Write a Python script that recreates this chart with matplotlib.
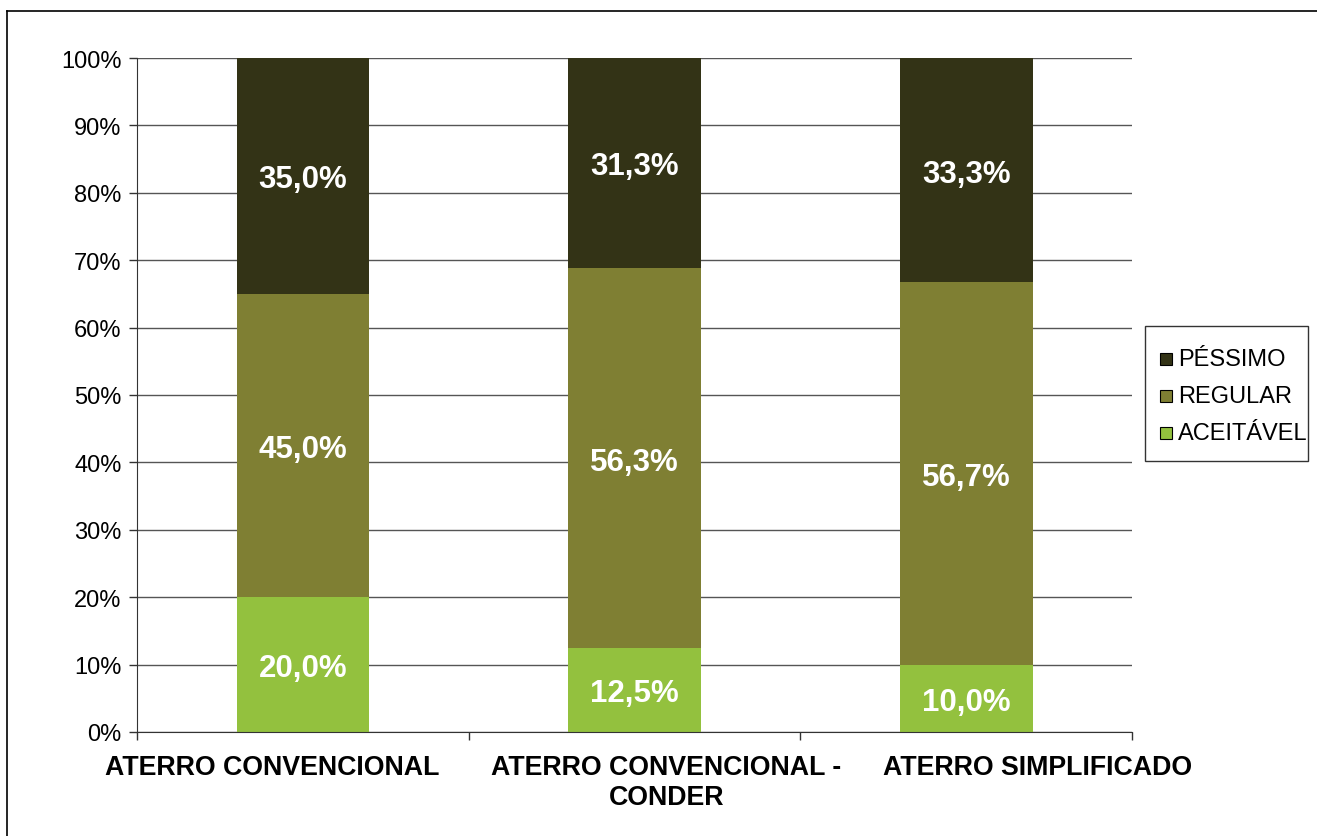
import matplotlib
matplotlib.use("Agg")
import matplotlib.pyplot as plt
from matplotlib.lines import Line2D
from matplotlib.patches import Rectangle
from matplotlib.transforms import ScaledTranslation
import numpy as np

plt.rcParams['font.family'] = ['Liberation Sans', 'DejaVu Sans']

categories = ["ATERRO CONVENCIONAL", "ATERRO CONVENCIONAL -\nCONDER", "ATERRO SIMPLIFICADO"]
aceitavel = [20.0, 12.5, 10.0]
regular = [45.0, 56.3, 56.7]
pessimo = [35.0, 31.3, 33.3]
series_names = ["ACEITÁVEL", "REGULAR", "PÉSSIMO"]
colors = ["#93c13e", "#7f7f33", "#333316"]
yticks = list(range(0, 101, 10))

W, H = 1317, 837
fig = plt.figure(figsize=(W / 100, H / 100), dpi=100)
ax = fig.add_axes([137 / W, 1 - 733 / H, (1132 - 137) / W, (733 - 59) / H])

x = np.arange(len(categories))
bottom = np.zeros(len(categories))
for vals, name, col in zip([aceitavel, regular, pessimo], series_names, colors):
    ax.bar(x, vals, 0.4, bottom=bottom, color=col, label=name, zorder=2)
    for xi, v, bt in zip(x, vals, bottom):
        ax.text(xi, bt + v / 2, f"{v:.1f}%".replace(".", ","), ha="center",
                va="center_baseline", color="white", fontsize=22.5, fontweight="bold",
                zorder=3)
    bottom = bottom + np.array(vals)

ax.set_xlim(-0.5, 2.5)
ax.set_ylim(0, 100)
ax.set_yticks(yticks)
ax.set_yticklabels([f"{t}%" for t in yticks], fontsize=17)
ax.yaxis.grid(True, color="#555555", linewidth=1, zorder=0)
ax.set_axisbelow(True)
ax.tick_params(axis="y", length=6, width=1, pad=5, color="#333333")
for s in ["top", "right"]:
    ax.spines[s].set_visible(False)
for s in ["left", "bottom"]:
    ax.spines[s].set_color("#333333")

ax.set_xticks(x)
ax.set_xticklabels(categories, fontsize=19.3, fontweight="bold", linespacing=1.2)
ax.tick_params(axis="x", which="major", length=0, pad=16)
ax.set_xticks([-0.5, 0.5, 1.5, 2.5], minor=True)
ax.tick_params(axis="x", which="minor", length=6, width=1, color="#333333")
offsets = [-31, 32, 71]
for lbl, off in zip(ax.get_xticklabels(), offsets):
    lbl.set_transform(lbl.get_transform() + ScaledTranslation(off / 100, 0, fig.dpi_scale_trans))

# legend (drawn manually: fixed frame, text may overflow like the original)
fig.add_artist(Rectangle((1145 / W, 1 - 462 / H), (1308 - 1145) / W, (462 - 327) / H,
                         transform=fig.transFigure, facecolor="white", edgecolor="#333333",
                         linewidth=1, zorder=5))
row_y = [359.5, 397, 434]
for yy, name, col in zip(row_y, series_names[::-1], colors[::-1]):
    fig.add_artist(Rectangle((1160 / W, 1 - (yy + 6) / H), 12 / W, 12 / H,
                             transform=fig.transFigure, facecolor=col, edgecolor="black",
                             linewidth=0.8, zorder=6))
    fig.text(1178 / W, 1 - yy / H, name, fontsize=17, va="center", ha="left", zorder=6)

# outer frame
fig.add_artist(Line2D([7 / W, 7 / W], [-0.05, 1 - 12 / H], color="black", linewidth=1.2,
                      transform=fig.transFigure))
fig.add_artist(Line2D([7 / W, 1.05], [1 - 12 / H, 1 - 12 / H], color="black", linewidth=1.2,
                      transform=fig.transFigure))

fig.savefig("out.png", dpi=100)
